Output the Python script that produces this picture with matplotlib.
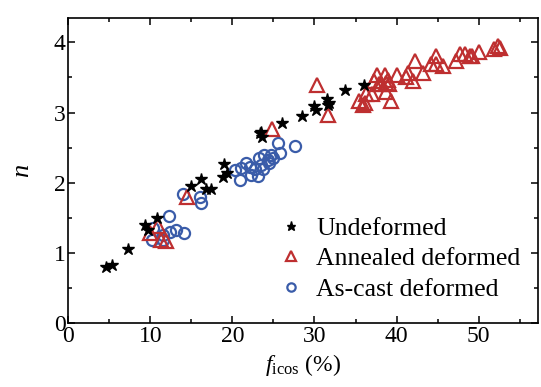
import matplotlib
matplotlib.use("Agg")
import matplotlib.pyplot as plt
from matplotlib.ticker import MultipleLocator

plt.rcParams['font.family'] = ['Liberation Serif', 'DejaVu Serif']
plt.rcParams['mathtext.fontset'] = 'custom'
plt.rcParams['mathtext.rm'] = 'Liberation Serif'
plt.rcParams['mathtext.it'] = 'Liberation Serif:italic'

# undeformed (stars)
und_x = [4.55, 5.28, 7.30, 9.37, 9.78, 10.88, 15.01, 16.14, 16.75, 17.36, 18.82, 18.98, 19.39,
         23.53, 23.65, 23.4, 26.08, 28.47, 29.9, 30.13, 31.56, 31.63, 31.75, 33.66, 36.0]
und_y = [0.80, 0.83, 1.06, 1.40, 1.33, 1.50, 1.95, 2.05, 1.91, 1.91, 2.08, 2.27, 2.14,
         2.73, 2.65, 2.71, 2.85, 2.95, 3.09, 3.04, 3.19, 3.11, 3.14, 3.32, 3.39]

# annealed deformed (triangles)
ann_x = [9.94, 10.95, 11.36, 11.9, 14.5, 24.8, 30.3, 31.6, 35.4, 35.9, 36.2, 36.3, 37.0, 37.3,
         37.6, 37.9, 38.1, 38.6, 38.7, 38.7, 38.9, 39.1, 39.3, 40.1, 41.2, 41.4, 42.0, 42.3,
         43.2, 44.2, 44.8, 44.8, 45.7, 47.2, 47.7, 48.3, 48.9, 49.2, 50.1, 51.9, 52.3, 52.6]
ann_y = [1.28, 1.38, 1.18, 1.17, 1.80, 2.76, 3.39, 2.96, 3.16, 3.11, 3.14, 3.26, 3.26, 3.45,
         3.54, 3.40, 3.40, 3.53, 3.42, 3.30, 3.47, 3.40, 3.16, 3.53, 3.50, 3.56, 3.45, 3.73,
         3.56, 3.69, 3.80, 3.69, 3.66, 3.73, 3.83, 3.83, 3.81, 3.81, 3.86, 3.90, 3.95, 3.92]

# as-cast deformed (circles)
cast_x = [10.27, 10.34, 11.56, 11.56, 12.25, 12.37, 13.19, 13.99, 14.11, 16.06, 16.23,
          20.28, 20.89, 21.1, 21.7, 22.1, 22.3, 22.7, 23.1, 23.3, 23.5, 23.7, 23.9, 24.3,
          24.5, 24.7, 24.9, 25.5, 25.8, 27.6]
cast_y = [1.19, 1.35, 1.26, 1.19, 1.53, 1.30, 1.32, 1.84, 1.29, 1.80, 1.71,
          2.18, 2.04, 2.21, 2.28, 2.23, 2.11, 2.19, 2.10, 2.35, 2.26, 2.19, 2.40, 2.33,
          2.28, 2.40, 2.35, 2.56, 2.42, 2.52]

red = '#BE2F30'
blue = '#3A5CA9'

fig = plt.figure(figsize=(5.41, 3.87), dpi=100)
ax = fig.add_axes([0.126, 0.165, 0.868, 0.789])

ax.plot(cast_x, cast_y, 'o', ms=8, mfc='none', mec=blue, mew=1.6, label='As-cast deformed', zorder=2)
ax.plot(ann_x, ann_y, '^', ms=10, mfc='none', mec=red, mew=1.6, label='Annealed deformed', zorder=3)
ax.plot(und_x, und_y, '*', ms=9, color='black', mec='black', label='Undeformed', zorder=4)

ax.set_xlim(0, 57.2)
ax.set_ylim(0, 4.35)
ax.xaxis.set_major_locator(MultipleLocator(10))
ax.xaxis.set_minor_locator(MultipleLocator(5))
ax.yaxis.set_major_locator(MultipleLocator(1))
ax.yaxis.set_minor_locator(MultipleLocator(0.5))
ax.tick_params(which='both', direction='in', top=True, right=True, labelsize=17, width=1.1, pad=2)
ax.tick_params(which='major', length=5)
ax.tick_params(which='minor', length=3)
for s in ax.spines.values():
    s.set_linewidth(1.2)

ax.set_xlabel(r'$f_{\mathrm{icos}}$ (%)', fontsize=17, labelpad=4)
ax.set_ylabel(r'$n$', fontsize=19, labelpad=14)

h, l = ax.get_legend_handles_labels()
order = [2, 1, 0]
ax.legend([h[i] for i in order], [l[i] for i in order], loc='upper left',
          bbox_to_anchor=(0.422, 0.391), frameon=False, fontsize=18.5, markerscale=0.75,
          borderpad=0, handlelength=0.9, handletextpad=0.55, labelspacing=0.3)

fig.savefig('out.png', dpi=100)
